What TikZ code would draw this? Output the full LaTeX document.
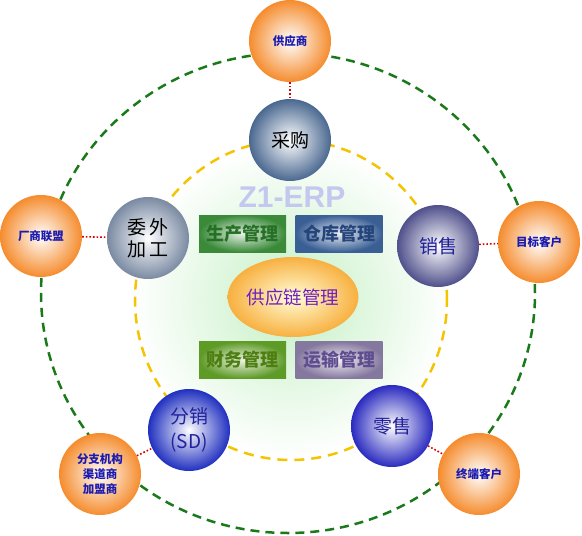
\documentclass[tikz,border=0pt]{standalone}
\usepackage{fontspec}
\setmainfont{Noto Sans CJK SC}
\newfontfamily\zfont{Liberation Sans}
\usetikzlibrary{shapes.geometric}
\definecolor{orangeC}{HTML}{F58C2E}
\definecolor{outerText}{HTML}{1A1AB0}
\definecolor{greenD}{HTML}{1A7A1A}
\definecolor{yellowD}{HTML}{F5C400}
\definecolor{glowC}{HTML}{C4F0C4}
\definecolor{boxG}{HTML}{3A8A3A}
\definecolor{boxB}{HTML}{3A5F95}
\definecolor{boxO}{HTML}{5E9A26}
\definecolor{boxP}{HTML}{85789F}
\definecolor{txG}{HTML}{267026}
\definecolor{txB}{HTML}{24447A}
\definecolor{txO}{HTML}{4E7E12}
\definecolor{txP}{HTML}{5E4E90}
\definecolor{cgC}{HTML}{4A6890}
\definecolor{wwC}{HTML}{7A8AA2}
\definecolor{xsC}{HTML}{50508C}
\definecolor{fxC}{HTML}{2030C0}
\definecolor{lsC}{HTML}{2A2AC0}
\definecolor{darkBlueT}{HTML}{20209A}
\definecolor{ellT}{HTML}{7020C0}
\definecolor{zC}{HTML}{C4C8F0}
\begin{document}
\begin{tikzpicture}[x=1pt,y=-1pt,
  outer/.style={circle, minimum size=82pt, inner sep=0pt, shading=radial,
    inner color=white, outer color=orangeC, text=outerText,
    font=\fontsize{11.5}{15}\selectfont\bfseries, align=center},
  inner/.style={circle, minimum size=82pt, inner sep=0pt, shading=radial,
    inner color=white, outer color=#1, font=\fontsize{19}{23}\selectfont, align=center},
  mbox/.style={rectangle, minimum width=87pt, minimum height=37pt, inner sep=0pt,
    shading=radial, inner color=#1!12!white, outer color=#1,
    font=\fontsize{18}{20}\selectfont\bfseries},
  link/.style={red!85!black, line width=1.6pt, dotted},
]
\useasboundingbox (0,0) rectangle (582,536);
% glow
\shade[inner color=glowC, outer color=white] (291,300) circle (158pt);
% dashed rings
\draw[greenD, line width=2.5pt, dash pattern=on 9pt off 6pt] (288,293) ellipse [x radius=247pt, y radius=240pt];
\draw[yellowD, line width=2.5pt, dash pattern=on 10pt off 7pt] (291,300) ellipse [x radius=156pt, y radius=160pt];

% title
\node[text=zC, font=\zfont\fontsize{30}{30}\selectfont\bfseries] (z1) at (292,197) {Z1-ERP};

% boxes
\node[mbox=boxG, text=txG] (sc) at (242.5,233.5) {生产管理};
\node[mbox=boxB, text=txB] (ck) at (339,233.5) {仓库管理};
\node[mbox=boxO, text=txO] (cw) at (242.5,360) {财务管理};
\node[mbox=boxP, text=txP] (ys) at (339,360) {运输管理};

% center ellipse
\node[ellipse, minimum width=114pt, minimum height=80pt, inner sep=0pt,
  shading=radial, inner color=yellow!15!white, outer color={rgb,255:red,248;green,176;blue,64},
  text=ellT, font=\fontsize{18.5}{20}\selectfont] (gyl) at (293,297) {供应链管理};

% inner spheres
\node[inner=cgC, text=black] (cg) at (290,140) {采购};
\node[inner=wwC, text=black, font=\fontsize{19}{22}\selectfont] (ww) at (148,238) {委\hspace{4pt}外\\加\hspace{4pt}工};
\node[inner=xsC, text=darkBlueT] (xs) at (438,246) {销售};
\node[inner=fxC, text=darkBlueT, font=\fontsize{19}{25}\selectfont] (fx) at (189,430) {分销\\(SD)};
\node[inner=lsC, text=darkBlueT] (ls) at (392,426) {零售};

% outer spheres
\node[outer] (gys) at (290,41) {供应商};
\node[outer] (cs) at (41,236) {厂商联盟};
\node[outer] (mb) at (539,242) {目标客户};
\node[outer] (fz) at (100,474) {分支机构\\渠道商\\加盟商};
\node[outer] (zd) at (479,474) {终端客户};

% links
\draw[link] (gys) -- (cg);
\draw[link] (cs) -- (ww);
\draw[link] (xs) -- (mb);
\draw[link] (fz) -- (fx);
\draw[link] (ls) -- (zd);
\end{tikzpicture}
\end{document}
